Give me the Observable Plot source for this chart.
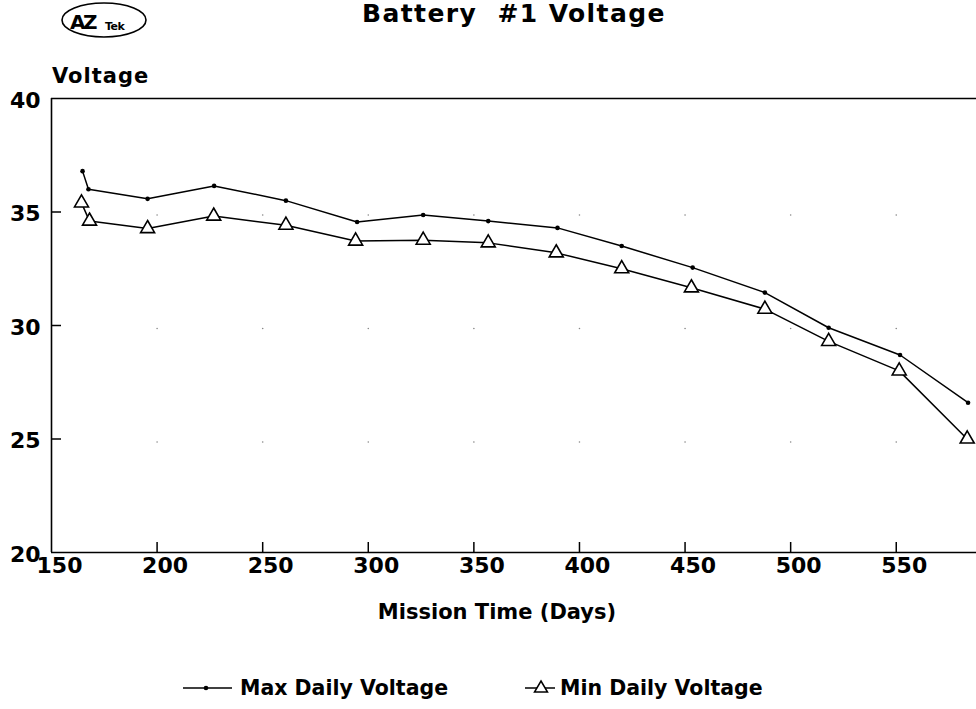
<!DOCTYPE html>
<html>
<head>
<meta charset="utf-8">
<script src="https://cdn.jsdelivr.net/npm/d3@7"></script>
<script src="https://cdn.jsdelivr.net/npm/@observablehq/plot@0.6"></script>
<style>
  html, body { margin: 0; padding: 0; background: #fff; }
  #wrap { position: relative; width: 976px; height: 709px; overflow: hidden; background: #fff;
          font-family: "DejaVu Sans", "Liberation Sans", Arial, sans-serif; color: #000; }
  #chart { position: absolute; left: 0; top: 0; }
  .abs { position: absolute; white-space: nowrap; line-height: 1; }
  #title { left: 362px; top: 1px; font-size: 25px; font-weight: bold; letter-spacing: 1.4px; }
  #ylabel { left: 52px; top: 66px; font-size: 21px; font-weight: bold; letter-spacing: 1px; }
  #xlabel { left: 0; width: 994px; text-align: center; top: 602px; font-size: 21px; font-weight: bold; }
  .leg { font-size: 20.5px; font-weight: bold; top: 678px; }
</style>
</head>
<body>
<div id="wrap">
  <div id="chart"></div>
  <svg class="abs" style="left:58px;top:0px" width="96" height="42" viewBox="0 0 96 42">
    <ellipse cx="46" cy="20" rx="42" ry="17" fill="none" stroke="#000" stroke-width="1.6"/>
    <text x="12" y="29" font-family="DejaVu Sans" font-weight="bold" font-size="20" letter-spacing="-2.5">AZ</text>
    <text x="47" y="30" font-family="DejaVu Sans" font-weight="bold" font-size="11" letter-spacing="-0.5">Tek</text>
  </svg>
  <div id="title" class="abs">Battery&nbsp;&nbsp;#1 Voltage</div>
  <div id="ylabel" class="abs">Voltage</div>
  <div id="xlabel" class="abs">Mission Time (Days)</div>
  <svg class="abs" style="left:180px;top:678px" width="56" height="20">
    <line x1="3" y1="10" x2="52" y2="10" stroke="#000" stroke-width="1.5"/>
    <circle cx="26" cy="10" r="2.3" fill="#000"/>
  </svg>
  <div class="abs leg" style="left:240px">Max Daily Voltage</div>
  <svg class="abs" style="left:522px;top:676px" width="36" height="22">
    <line x1="3" y1="12" x2="33" y2="12" stroke="#000" stroke-width="1.5"/>
    <path d="M19,5 L25.5,16 L12.5,16 Z" fill="#fff" stroke="#000" stroke-width="1.5"/>
  </svg>
  <div class="abs leg" style="left:560px">Min Daily Voltage</div>
</div>
<script>
// ---- Data ----
const maxDays  = [164.7, 167.5, 195.5, 227, 261, 294.7, 326, 356.8, 389.6, 420, 453.6, 487.8, 518, 551.8, 584];
const maxVolts = [36.8, 36.0, 35.58, 36.15, 35.5, 34.56, 34.87, 34.6, 34.3, 33.5, 32.55, 31.45, 29.9, 28.7, 26.6];
const minDays  = [164.2, 168, 195.5, 226.8, 261, 294, 326, 356.8, 389, 420, 453, 487.8, 518, 551.4, 583.6];
const minVolts = [35.4, 34.6, 34.27, 34.82, 34.42, 33.72, 33.76, 33.64, 33.2, 32.5, 31.66, 30.72, 29.3, 28.0, 25.0];
const xTicks = [150, 200, 250, 300, 350, 400, 450, 500, 550];
const yTicks = [20, 25, 30, 35, 40];
const xDomain = [150, 588];
const yDomain = [20, 40];

const maxData = maxDays.map((d, i) => ({day: d, volts: maxVolts[i]}));
const minData = minDays.map((d, i) => ({day: d, volts: minVolts[i]}));
const gridPts = xTicks.slice(1).flatMap(x => yTicks.slice(1, 4).map(y => ({x, y})));

// layout
const W = 976, H = 709, mL = 51, mR = 0, mT = 98, mB = 157, tickLen = 10;
const frameW = W - mL - mR, frameH = H - mT - mB;

const chart = Plot.plot({
  width: W,
  height: H,
  marginLeft: mL,
  marginRight: mR,
  marginTop: mT,
  marginBottom: mB,
  x: {domain: xDomain, label: null},
  y: {domain: yDomain, label: null},
  style: {fontFamily: "DejaVu Sans", fontWeight: "bold", fontSize: "22px", color: "#000", background: "transparent", overflow: "visible"},
  marks: [
    Plot.dot(gridPts, {x: "x", y: "y", r: 0.8, fill: "#888", dy: 3}),
    Plot.ruleY([yDomain[0], yDomain[1]], {stroke: "#000", strokeWidth: 1.6}),
    Plot.ruleX([xDomain[0]], {stroke: "#000", strokeWidth: 1.6}),
    // inward tick marks
    Plot.ruleY(yTicks.slice(1, 4), {y: d => d, insetRight: frameW - tickLen, stroke: "#000", strokeWidth: 1.5}),
    Plot.ruleX(xTicks.slice(1), {x: d => d, insetTop: frameH - tickLen, stroke: "#000", strokeWidth: 1.5}),
    Plot.axisY(yTicks, {anchor: "left", tickSize: 0, tickPadding: 11, dy: 2, label: null}),
    Plot.axisX(xTicks, {anchor: "bottom", tickSize: 0, tickPadding: 5, dx: 8, label: null}),
    Plot.line(maxData, {x: "day", y: "volts", stroke: "#000", strokeWidth: 1.5}),
    Plot.dot(maxData, {x: "day", y: "volts", r: 2.3, fill: "#000"}),
    Plot.line(minData, {x: "day", y: "volts", stroke: "#000", strokeWidth: 1.5}),
    Plot.dot(minData, {x: "day", y: "volts", symbol: "triangle", r: 5.2, fill: "#fff", stroke: "#000", strokeWidth: 1.6})
  ]
});
document.getElementById("chart").appendChild(chart);
</script>
</body>
</html>
